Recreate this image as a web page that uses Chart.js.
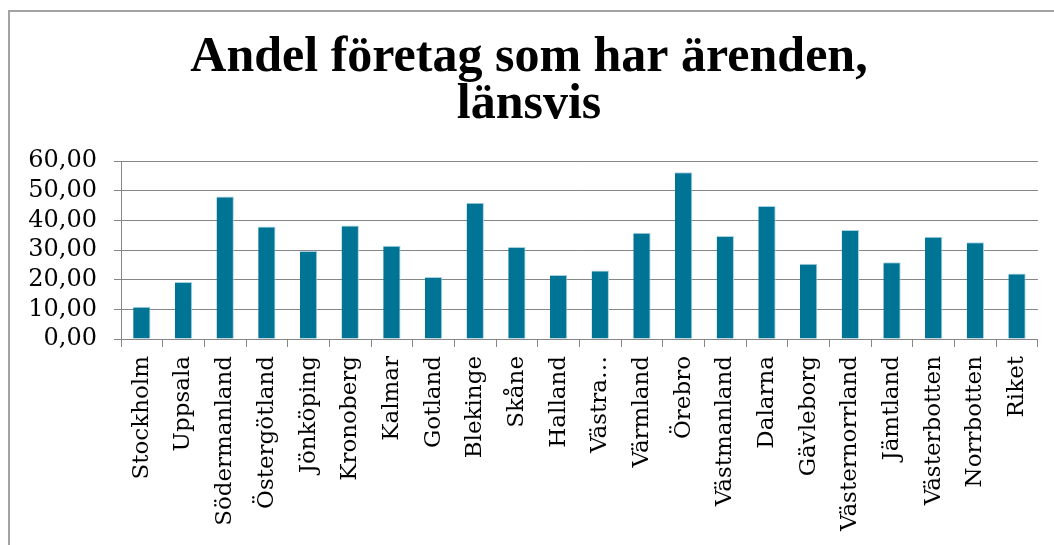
<!DOCTYPE html>
<html>
<head>
<meta charset="utf-8">
<script src="https://cdn.jsdelivr.net/npm/chart.js@4"></script>
<style>
    html, body { margin: 0; padding: 0; background: #fff; overflow: hidden; }
    #wrap { position: relative; width: 1054px; height: 545px; }
    #frame { position: absolute; left: 8px; top: 10px; width: 2000px; height: 2000px;
             border-left: 2px solid #a3a3a3; border-top: 2px solid #a3a3a3; }
    #chart { position: absolute; left: 0; top: 0; }
</style>
</head>
<body>
<div id="wrap">
    <div id="frame"></div>
    <canvas id="chart" width="1054" height="545"></canvas>
</div>
<script>
// Data läst från bilden
const titleLines = ['Andel företag som har ärenden,', 'länsvis'];
const categories = ['Stockholm', 'Uppsala', 'Södermanland', 'Östergötland', 'Jönköping', 'Kronoberg',
    'Kalmar', 'Gotland', 'Blekinge', 'Skåne', 'Halland', 'Västra…', 'Värmland', 'Örebro',
    'Västmanland', 'Dalarna', 'Gävleborg', 'Västernorrland', 'Jämtland', 'Västerbotten',
    'Norrbotten', 'Riket'];
const values = [10.9, 19.2, 48.0, 37.9, 29.7, 38.3, 31.4, 20.9, 45.9, 31.0, 21.6, 23.1,
    35.8, 56.2, 34.7, 44.8, 25.4, 36.7, 25.9, 34.5, 32.6, 22.1];
const yTickValues = [0, 10, 20, 30, 40, 50, 60];

const ctx = document.getElementById('chart').getContext('2d');
const chart = new Chart(ctx, {
    type: 'bar',
    data: {
        labels: categories,
        datasets: [{
            data: values,
            backgroundColor: '#007494',
            borderColor: '#a8d2df',
            borderWidth: { top: 1, right: 1, left: 0, bottom: 0 },
            categoryPercentage: 0.8,
            barPercentage: 0.52
        }]
    },
    options: {
        responsive: false,
        animation: false,
        layout: { padding: { left: 20, right: 16, top: 0, bottom: 0 } },
        plugins: {
            legend: { display: false },
            tooltip: { enabled: false },
            title: {
                display: true,
                text: titleLines,
                color: '#000',
                font: { family: 'Liberation Serif', size: 50, weight: 'bold', lineHeight: '47px' },
                padding: { top: 35, bottom: 32 }
            }
        },
        scales: {
            x: {
                grid: { drawOnChartArea: false, offset: true, tickLength: 8, color: '#868686', lineWidth: 1 },
                border: { color: '#868686', width: 1 },
                ticks: {
                    autoSkip: false,
                    maxRotation: 90,
                    minRotation: 90,
                    padding: 9,
                    color: '#000',
                    font: { family: 'DejaVu Serif', size: 23 }
                },
                afterFit: (scale) => { scale.height = 206; }
            },
            y: {
                min: 0,
                max: 60,
                afterBuildTicks: (scale) => { scale.ticks = yTickValues.map(v => ({ value: v })); },
                grid: { color: '#868686', lineWidth: 1, tickLength: 7 },
                border: { color: '#868686', width: 1 },
                ticks: {
                    autoSkip: false,
                    padding: 17,
                    color: '#000',
                    font: { family: 'DejaVu Serif', size: 24 },
                    callback: (v) => Number(v).toFixed(2).replace('.', ',')
                },
                afterFit: (scale) => { scale.width = 101; }
            }
        }
    }
});
</script>
</body>
</html>
